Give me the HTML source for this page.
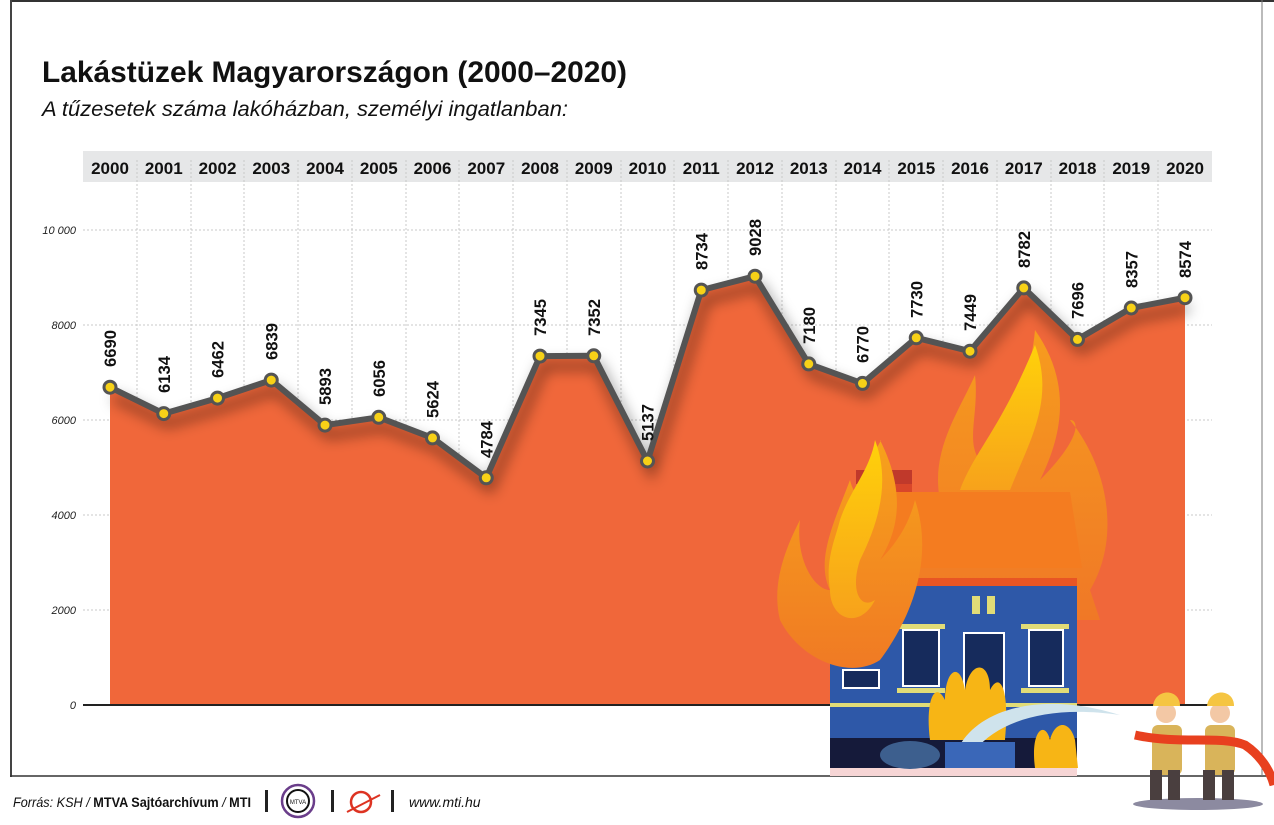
<!DOCTYPE html>
<html><head><meta charset="utf-8"><style>
html,body{margin:0;padding:0;background:#fff;width:1274px;height:825px;overflow:hidden}
svg{display:block}
</style></head><body>
<svg width="1274" height="825" viewBox="0 0 1274 825" xmlns="http://www.w3.org/2000/svg" font-family="Liberation Sans, sans-serif">
<defs>
<filter id="sh" x="-10%" y="-20%" width="120%" height="160%"><feGaussianBlur stdDeviation="7"/></filter>
<linearGradient id="fl" x1="0" y1="0" x2="0" y2="1"><stop offset="0" stop-color="#f7a21b"/><stop offset="1" stop-color="#f07a24"/></linearGradient>
<linearGradient id="fy" x1="0" y1="0" x2="0" y2="1"><stop offset="0" stop-color="#ffd10a"/><stop offset="1" stop-color="#f7a21b"/></linearGradient>
</defs>
<line x1="10" y1="1" x2="1274" y2="1" stroke="#333" stroke-width="2"/>
<line x1="11" y1="0" x2="11" y2="777" stroke="#444" stroke-width="2"/>
<line x1="10" y1="776" x2="1274" y2="776" stroke="#333" stroke-width="1.5"/>
<line x1="1262" y1="0" x2="1262" y2="776" stroke="#777" stroke-width="1"/>
<text x="42" y="82" font-size="30" font-weight="bold" fill="#111" textLength="585" lengthAdjust="spacingAndGlyphs">Lakástüzek Magyarországon (2000–2020)</text>
<text x="42" y="116" font-size="21" font-style="italic" fill="#111" textLength="526" lengthAdjust="spacingAndGlyphs">A tűzesetek száma lakóházban, személyi ingatlanban:</text>
<rect x="83" y="151" width="1129" height="31" fill="#e6e7e8"/>
<g font-size="17" font-weight="bold" fill="#111" text-anchor="middle">
<text x="110" y="174">2000</text><text x="163.75" y="174">2001</text><text x="217.5" y="174">2002</text><text x="271.25" y="174">2003</text><text x="325" y="174">2004</text><text x="378.75" y="174">2005</text><text x="432.5" y="174">2006</text><text x="486.25" y="174">2007</text><text x="540" y="174">2008</text><text x="593.75" y="174">2009</text><text x="647.5" y="174">2010</text><text x="701.25" y="174">2011</text><text x="755" y="174">2012</text><text x="808.75" y="174">2013</text><text x="862.5" y="174">2014</text><text x="916.25" y="174">2015</text><text x="970" y="174">2016</text><text x="1023.75" y="174">2017</text><text x="1077.5" y="174">2018</text><text x="1131.25" y="174">2019</text><text x="1185" y="174">2020</text>
</g>
<g stroke="#c8c8c8" stroke-width="1" stroke-dasharray="2,2">
<line x1="83" y1="230" x2="1212" y2="230"/><line x1="83" y1="325" x2="1212" y2="325"/><line x1="83" y1="420" x2="1212" y2="420"/><line x1="83" y1="515" x2="1212" y2="515"/><line x1="83" y1="610" x2="1212" y2="610"/>
<line x1="137" y1="160" x2="137" y2="705"/><line x1="191" y1="160" x2="191" y2="705"/><line x1="244" y1="160" x2="244" y2="705"/><line x1="298" y1="160" x2="298" y2="705"/><line x1="352" y1="160" x2="352" y2="705"/><line x1="406" y1="160" x2="406" y2="705"/><line x1="459" y1="160" x2="459" y2="705"/><line x1="513" y1="160" x2="513" y2="705"/><line x1="567" y1="160" x2="567" y2="705"/><line x1="621" y1="160" x2="621" y2="705"/><line x1="674" y1="160" x2="674" y2="705"/><line x1="728" y1="160" x2="728" y2="705"/><line x1="782" y1="160" x2="782" y2="705"/><line x1="836" y1="160" x2="836" y2="705"/><line x1="889" y1="160" x2="889" y2="705"/><line x1="943" y1="160" x2="943" y2="705"/><line x1="997" y1="160" x2="997" y2="705"/><line x1="1051" y1="160" x2="1051" y2="705"/><line x1="1104" y1="160" x2="1104" y2="705"/><line x1="1158" y1="160" x2="1158" y2="705"/>
</g>
<g font-size="11" font-style="italic" fill="#222" text-anchor="end">
<text x="76" y="234">10 000</text><text x="76" y="329">8000</text><text x="76" y="424">6000</text><text x="76" y="519">4000</text><text x="76" y="614">2000</text><text x="76" y="709">0</text>
</g>
<polygon fill="#f0673a" points="110,705 110,387.2 163.75,413.6 217.5,398.1 271.25,380.1 325,425.1 378.75,417.3 432.5,437.9 486.25,477.8 540,356.1 593.75,355.8 647.5,461 701.25,290.1 755,276.2 808.75,363.9 862.5,383.4 916.25,337.8 970,351.2 1023.75,287.9 1077.5,339.4 1131.25,308 1185,297.7 1185,705"/>
<line x1="83" y1="705" x2="1212" y2="705" stroke="#222" stroke-width="2"/>
<g>
<path d="M940,500 C930,450 960,410 975,375 C980,420 960,450 990,470 C1000,430 1030,390 1035,330 C1070,380 1065,430 1040,480 C1080,440 1080,420 1070,420 C1110,470 1120,540 1090,590 L1100,620 L900,620 Z" fill="url(#fl)" opacity="0.9"/>
<path d="M960,490 C975,450 1000,430 1035,345 C1055,400 1030,440 1010,490 Z" fill="url(#fy)"/>
<rect x="856" y="470" width="56" height="14" fill="#c0392b"/>
<rect x="894" y="484" width="18" height="30" fill="#d9462a"/>
<polygon points="870,492 1070,492 1082,568 865,568" fill="#f47c20"/>
<rect x="830" y="578" width="247" height="160" fill="#2e58a8"/>
<rect x="830" y="578" width="247" height="8" fill="#e85524"/>
<rect x="830" y="738" width="247" height="32" fill="#151a3a"/>
<rect x="830" y="768" width="247" height="8" fill="#f6d5d5"/>
<rect x="830" y="703" width="247" height="4" fill="#e1dc77"/>
<g fill="#162b5c" stroke="#fff" stroke-width="2">
<rect x="903" y="630" width="36" height="56"/><rect x="1029" y="630" width="34" height="56"/><rect x="964" y="633" width="40" height="70"/><rect x="843" y="670" width="36" height="18"/>
</g>
<g fill="#e1dc77"><rect x="897" y="624" width="48" height="5"/><rect x="1021" y="624" width="48" height="5"/><rect x="897" y="688" width="48" height="5"/><rect x="1021" y="688" width="48" height="5"/><rect x="972" y="596" width="8" height="18"/><rect x="987" y="596" width="8" height="18"/></g>
<path d="M930,740 C925,700 935,680 945,700 C945,670 960,660 965,690 C970,660 990,660 990,690 C1000,670 1010,690 1005,740 Z" fill="#f7b515"/>
<path d="M1035,768 C1030,730 1045,720 1050,740 C1055,720 1070,720 1075,740 L1078,768 Z" fill="#f7b515"/>
<path d="M870,500 C860,460 885,440 880,440 C900,480 905,520 880,560 C900,540 910,520 915,500 C935,560 910,620 880,660 C850,680 800,660 780,620 C770,580 790,540 800,520 C795,560 815,590 830,590 C815,560 835,520 850,480 C855,500 860,490 870,500 Z" fill="url(#fl)"/>
<path d="M840,520 C850,490 870,470 875,440 C890,480 880,520 860,560 C850,590 860,610 875,600 C860,630 830,620 830,590 C825,560 835,540 840,520 Z" fill="url(#fy)"/>
<path d="M960,745 C980,710 1040,690 1120,715 C1050,705 1000,720 975,750 Z" fill="#cfe3ec"/>
<ellipse cx="910" cy="755" rx="30" ry="14" fill="#3d5f8e"/>
<rect x="945" y="742" width="70" height="26" fill="#3a67b8"/>
<ellipse cx="1198" cy="804" rx="65" ry="6" fill="#8c8aa0"/>
<g>
<rect x="1152" y="725" width="30" height="50" rx="6" fill="#d9b45a"/>
<rect x="1150" y="770" width="12" height="30" fill="#4a3f3f"/><rect x="1168" y="770" width="12" height="30" fill="#4a3f3f"/>
<circle cx="1166" cy="713" r="10" fill="#f3c8a5"/><path d="M1153,706 C1155,688 1180,688 1180,706 Z" fill="#f5c542"/>
<rect x="1205" y="725" width="30" height="50" rx="6" fill="#d9b45a"/>
<rect x="1203" y="770" width="12" height="30" fill="#4a3f3f"/><rect x="1222" y="770" width="12" height="30" fill="#4a3f3f"/>
<circle cx="1220" cy="713" r="10" fill="#f3c8a5"/><path d="M1207,706 C1209,688 1234,688 1234,706 Z" fill="#f5c542"/>
<path d="M1135,735 C1180,745 1220,735 1245,745 C1260,755 1270,770 1274,785" stroke="#e8401f" stroke-width="9" fill="none"/>
</g>
</g>
<polyline fill="none" stroke="#000" stroke-opacity="0.45" stroke-width="8" filter="url(#sh)" transform="translate(4,10)" points="110,387.2 163.75,413.6 217.5,398.1 271.25,380.1 325,425.1 378.75,417.3 432.5,437.9 486.25,477.8 540,356.1 593.75,355.8 647.5,461 701.25,290.1 755,276.2 808.75,363.9 862.5,383.4 916.25,337.8 970,351.2 1023.75,287.9 1077.5,339.4 1131.25,308 1185,297.7"/>
<polyline fill="none" stroke="#545454" stroke-width="6" stroke-linejoin="round" points="110,387.2 163.75,413.6 217.5,398.1 271.25,380.1 325,425.1 378.75,417.3 432.5,437.9 486.25,477.8 540,356.1 593.75,355.8 647.5,461 701.25,290.1 755,276.2 808.75,363.9 862.5,383.4 916.25,337.8 970,351.2 1023.75,287.9 1077.5,339.4 1131.25,308 1185,297.7"/>
<g fill="#f7d117" stroke="#545454" stroke-width="3">
<circle cx="110" cy="387.2" r="6"/><circle cx="163.75" cy="413.6" r="6"/><circle cx="217.5" cy="398.1" r="6"/><circle cx="271.25" cy="380.1" r="6"/><circle cx="325" cy="425.1" r="6"/><circle cx="378.75" cy="417.3" r="6"/><circle cx="432.5" cy="437.9" r="6"/><circle cx="486.25" cy="477.8" r="6"/><circle cx="540" cy="356.1" r="6"/><circle cx="593.75" cy="355.8" r="6"/><circle cx="647.5" cy="461" r="6"/><circle cx="701.25" cy="290.1" r="6"/><circle cx="755" cy="276.2" r="6"/><circle cx="808.75" cy="363.9" r="6"/><circle cx="862.5" cy="383.4" r="6"/><circle cx="916.25" cy="337.8" r="6"/><circle cx="970" cy="351.2" r="6"/><circle cx="1023.75" cy="287.9" r="6"/><circle cx="1077.5" cy="339.4" r="6"/><circle cx="1131.25" cy="308" r="6"/><circle cx="1185" cy="297.7" r="6"/>
</g>
<g font-size="17" font-weight="bold" fill="#111">
<text transform="translate(116,367) rotate(-90)" textLength="37" lengthAdjust="spacingAndGlyphs">6690</text>
<text transform="translate(169.75,393) rotate(-90)" textLength="37" lengthAdjust="spacingAndGlyphs">6134</text>
<text transform="translate(223.5,378) rotate(-90)" textLength="37" lengthAdjust="spacingAndGlyphs">6462</text>
<text transform="translate(277.25,360) rotate(-90)" textLength="37" lengthAdjust="spacingAndGlyphs">6839</text>
<text transform="translate(331,405) rotate(-90)" textLength="37" lengthAdjust="spacingAndGlyphs">5893</text>
<text transform="translate(384.75,397) rotate(-90)" textLength="37" lengthAdjust="spacingAndGlyphs">6056</text>
<text transform="translate(438.5,418) rotate(-90)" textLength="37" lengthAdjust="spacingAndGlyphs">5624</text>
<text transform="translate(492.25,458) rotate(-90)" textLength="37" lengthAdjust="spacingAndGlyphs">4784</text>
<text transform="translate(546,336) rotate(-90)" textLength="37" lengthAdjust="spacingAndGlyphs">7345</text>
<text transform="translate(599.75,336) rotate(-90)" textLength="37" lengthAdjust="spacingAndGlyphs">7352</text>
<text transform="translate(653.5,441) rotate(-90)" textLength="37" lengthAdjust="spacingAndGlyphs">5137</text>
<text transform="translate(707.25,270) rotate(-90)" textLength="37" lengthAdjust="spacingAndGlyphs">8734</text>
<text transform="translate(761,256) rotate(-90)" textLength="37" lengthAdjust="spacingAndGlyphs">9028</text>
<text transform="translate(814.75,344) rotate(-90)" textLength="37" lengthAdjust="spacingAndGlyphs">7180</text>
<text transform="translate(868.5,363) rotate(-90)" textLength="37" lengthAdjust="spacingAndGlyphs">6770</text>
<text transform="translate(922.25,318) rotate(-90)" textLength="37" lengthAdjust="spacingAndGlyphs">7730</text>
<text transform="translate(976,331) rotate(-90)" textLength="37" lengthAdjust="spacingAndGlyphs">7449</text>
<text transform="translate(1029.75,268) rotate(-90)" textLength="37" lengthAdjust="spacingAndGlyphs">8782</text>
<text transform="translate(1083.5,319) rotate(-90)" textLength="37" lengthAdjust="spacingAndGlyphs">7696</text>
<text transform="translate(1137.25,288) rotate(-90)" textLength="37" lengthAdjust="spacingAndGlyphs">8357</text>
<text transform="translate(1191,278) rotate(-90)" textLength="37" lengthAdjust="spacingAndGlyphs">8574</text>
</g>
<text x="13" y="807" font-size="14" font-style="italic" fill="#111" textLength="238" lengthAdjust="spacingAndGlyphs">Forrás: KSH / <tspan font-weight="bold" font-style="normal">MTVA Sajtóarchívum</tspan> / <tspan font-weight="bold" font-style="normal">MTI</tspan></text>
<rect x="265" y="790" width="3" height="22" fill="#222"/>
<circle cx="298" cy="801" r="16" fill="none" stroke="#6a3d8a" stroke-width="2.5"/>
<circle cx="298" cy="801" r="11" fill="none" stroke="#111" stroke-width="2"/>
<text x="298" y="804" font-size="6" text-anchor="middle" fill="#111">MTVA</text>
<rect x="331" y="790" width="3" height="22" fill="#222"/>
<circle cx="361" cy="802" r="10" fill="none" stroke="#d32" stroke-width="2.5"/>
<line x1="347" y1="812" x2="380" y2="795" stroke="#d32" stroke-width="2"/>
<rect x="391" y="790" width="3" height="22" fill="#222"/>
<text x="409" y="807" font-size="14" font-style="italic" fill="#111">www.mti.hu</text>
</svg>
</body></html>
